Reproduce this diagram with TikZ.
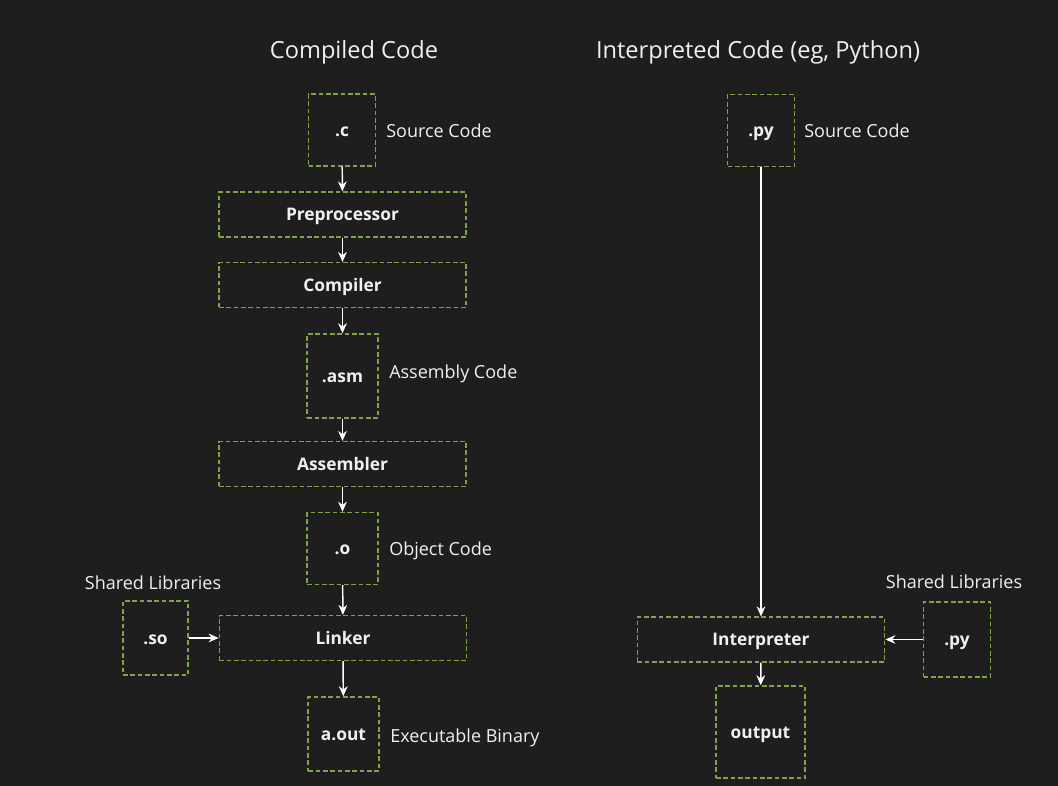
\documentclass[tikz,border=0pt]{standalone}
\usepackage{fontspec}
\setmainfont{Open Sans}
\usetikzlibrary{arrows.meta}
\definecolor{bgdark}{RGB}{30,30,30}
\definecolor{boxgreen}{RGB}{125,165,72}
\definecolor{txtlight}{RGB}{240,240,240}
\tikzset{
	stagebox/.style={draw=boxgreen, line width=1.1pt, dash pattern=on 3.5pt off 2pt, text=txtlight, font=\bfseries\fontsize{13}{15}\selectfont, inner sep=0pt, text height=9.4pt, text depth=0pt},
	widebox/.style={stagebox, minimum width=185.5pt, minimum height=33.5pt},
	filebox/.style={stagebox, minimum width=50pt, minimum height=54pt},
	sidelabel/.style={text=txtlight, font=\fontsize{13.5}{16}\selectfont, anchor=west, inner sep=0pt, text height=9.7pt, text depth=0pt},
	headlabel/.style={text=txtlight, font=\fontsize{17.7}{21}\selectfont, inner sep=0pt, text height=12.7pt, text depth=0pt},
	flow/.style={-{Stealth[length=7.5pt,width=6.5pt]}, draw=white, line width=1.1pt}
}

\begin{document}
\begin{tikzpicture}[x=0.75pt, y=-0.75pt]
		%%%%% START %%%%%
		
		\fill[bgdark] (0,0) rectangle (1058,786);
		\useasboundingbox (0,0) rectangle (1058,786);
		
		\node[headlabel] (headc) at (354, 50) {Compiled Code};
		\node[headlabel] (headpy) at (758, 50) {Interpreted Code (eg, Python)};
		
		%% compiled side
		\node[filebox] (srcc) at (342, 130) {.c};
		\node[widebox] (prep) at (342.5, 214.5) {Preprocessor};
		\node[widebox] (comp) at (342.5, 285) {Compiler};
		\node[filebox, minimum width=53pt, minimum height=63pt] (asm) at (342.5, 376) {.asm};
		\node[widebox] (asmb) at (342.5, 464) {Assembler};
		\node[filebox, minimum width=53pt] (obj) at (342.5, 548.5) {.o};
		\node[widebox] (link) at (343, 638) {Linker};
		\node[filebox, minimum width=49pt, minimum height=55.5pt] (so) at (155.5, 638) {.so};
		\node[filebox, minimum width=53pt, minimum height=55.5pt] (aout) at (343.5, 734) {a.out};
		
		\node[sidelabel] (srcctxt) at (386, 131) {Source Code};
		\node[sidelabel] (asmtxt) at (389, 372) {Assembly Code};
		\node[sidelabel] (objtxt) at (389, 549) {Object Code};
		\node[sidelabel] (aouttxt) at (390, 736) {Executable Binary};
		\node[sidelabel, anchor=center] (sotxt) at (153, 583) {Shared Libraries};
		
		\draw[flow] (srcc) -- (prep);
		\draw[flow] (prep) -- (comp);
		\draw[flow] (comp) -- (asm);
		\draw[flow] (asm) -- (asmb);
		\draw[flow] (asmb) -- (obj);
		\draw[flow] (obj) -- (link);
		\draw[flow] (so) -- (link);
		\draw[flow] (link) -- (aout);
		
		%% interpreted side
		\node[filebox] (srcpy) at (761, 130.5) {.py};
		\node[widebox] (interp) at (761, 639.5) {Interpreter};
		\node[filebox, minimum height=56pt] (libpy) at (957, 639.5) {.py};
		\node[filebox, minimum width=67pt, minimum height=69pt] (outp) at (760.5, 732) {output};
		
		\node[sidelabel] (srcpytxt) at (804, 131) {Source Code};
		\node[sidelabel, anchor=center] (libpytxt) at (954, 582) {Shared Libraries};
		
		\draw[flow] (srcpy) -- (interp);
		\draw[flow] (libpy) -- (interp);
		\draw[flow] (interp) -- (outp);
		
		%%%%% END %%%%%
	\end{tikzpicture}
\end{document}
